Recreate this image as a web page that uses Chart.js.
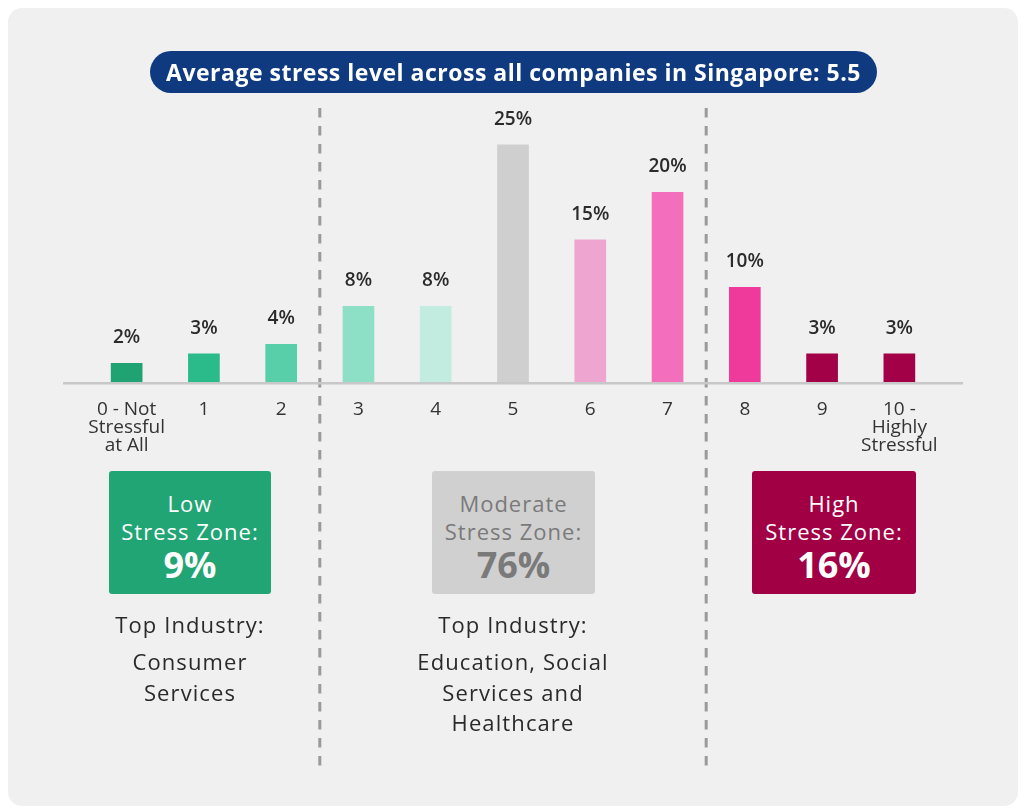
<!DOCTYPE html>
<html>
<head>
<meta charset="utf-8">
<script src="https://cdn.jsdelivr.net/npm/chart.js@4.4.0/dist/chart.umd.min.js"></script>
<style>
  body { margin: 0; background: #fff; width: 1024px; height: 812px; position: relative; overflow: hidden; font-family: "Open Sans", sans-serif; color: #2a2a2a; }
  #card { position: absolute; left: 8px; top: 8px; width: 1010px; height: 798px; background: #f0f0f0; border-radius: 14px; }
  #stress-chart { position: absolute; left: 0; top: 0; }
  .pill { position: absolute; left: 150px; top: 51px; width: 727px; height: 42px; border-radius: 21px; background: #103a80; color: #fff; font-weight: 700; font-size: 23px; letter-spacing: 0.5px; line-height: 42px; text-align: center; }
  .zone { position: absolute; top: 471px; height: 105px; padding-top: 18px; border-radius: 3px; text-align: center; font-size: 22px; letter-spacing: 1px; line-height: 28px; color: #fff; }
  .zone b { display: block; font-size: 36px; letter-spacing: 0; line-height: 40px; font-weight: 700; }
  .zone.low { left: 109px; width: 162px; background: #21a574; }
  .zone.mid { left: 432px; width: 163px; background: #d0d0d0; color: #7a7a7a; }
  .zone.high { left: 752px; width: 164px; background: #a10045; }
  .ind { position: absolute; text-align: center; font-size: 22px; letter-spacing: 1.1px; }
  .ind .head { line-height: 30px; }
  .ind .body { margin-top: 7px; line-height: 30.5px; }
</style>
</head>
<body>
<div id="card"></div>
<canvas id="stress-chart" width="1024" height="812"></canvas>

<div class="pill">Average stress level across all companies in Singapore: 5.5</div>

<div class="zone low">Low<br>Stress Zone:<b>9%</b></div>
<div class="zone mid">Moderate<br>Stress Zone:<b>76%</b></div>
<div class="zone high">High<br>Stress Zone:<b>16%</b></div>

<div class="ind" style="left:80px;width:220px;top:609px;">
  <div class="head">Top Industry:</div>
  <div class="body">Consumer<br>Services</div>
</div>
<div class="ind" style="left:393px;width:240px;top:609px;">
  <div class="head">Top Industry:</div>
  <div class="body">Education, Social<br>Services and<br>Healthcare</div>
</div>

<script>
const FONT = '"Open Sans", sans-serif';

const categories = [
  ["0 - Not", "Stressful", "at All"], "1", "2", "3", "4", "5", "6", "7", "8", "9",
  ["10 -", "Highly", "Stressful"],
];
const shares = [2, 3, 4, 8, 8, 25, 15, 20, 10, 3, 3];
const barColors = [
  "#1fa373", "#2bbb8a", "#58cfa8", "#8ddfc5", "#c2ece0",
  "#cfcfcf", "#eea6d0", "#f46fbb", "#ef3a9b", "#a20047", "#a20047",
];
// zone borders sit between these category indexes
const zoneBreaks = [[2, 3], [7, 8]];

const valueLabels = {
  id: "valueLabels",
  afterDatasetsDraw(chart) {
    const ctx = chart.ctx;
    const meta = chart.getDatasetMeta(0);
    ctx.save();
    ctx.fillStyle = "#2b2b2b";
    ctx.font = "600 19px " + FONT;
    ctx.textAlign = "center";
    ctx.textBaseline = "middle";
    meta.data.forEach((bar, i) => {
      ctx.fillText(shares[i] + "%", bar.x, bar.y - 25);
    });
    ctx.restore();
  },
};

const baseline = {
  id: "baseline",
  afterDatasetsDraw(chart) {
    const { ctx, chartArea } = chart;
    ctx.save();
    ctx.strokeStyle = "#c8c8c8";
    ctx.lineWidth = 2.5;
    ctx.beginPath();
    ctx.moveTo(chartArea.left - 25, chartArea.bottom + 1.25);
    ctx.lineTo(chartArea.right + 25, chartArea.bottom + 1.25);
    ctx.stroke();
    ctx.restore();
  },
};

const zoneLines = {
  id: "zoneLines",
  beforeDatasetsDraw(chart) {
    const ctx = chart.ctx;
    const x = chart.scales.x;
    ctx.save();
    ctx.strokeStyle = "#9a9a9a";
    ctx.lineWidth = 3;
    ctx.setLineDash([9.5, 8.5]);
    for (const [a, b] of zoneBreaks) {
      const px = (x.getPixelForValue(a) + x.getPixelForValue(b)) / 2;
      ctx.beginPath();
      ctx.moveTo(px, 108);
      ctx.lineTo(px, 771);
      ctx.stroke();
    }
    ctx.restore();
  },
};

new Chart(document.getElementById("stress-chart").getContext("2d"), {
  type: "bar",
  data: {
    labels: categories,
    datasets: [{
      data: shares,
      backgroundColor: barColors,
      borderWidth: 0,
      barPercentage: 0.41,
      categoryPercentage: 1,
    }],
  },
  options: {
    responsive: false,
    animation: false,
    layout: { padding: { left: 88, right: 86, top: 97, bottom: 350 } },
    plugins: { legend: { display: false }, tooltip: { enabled: false } },
    scales: {
      x: {
        offset: true,
        grid: { display: false, drawTicks: false },
        border: { display: false },
        ticks: {
          color: "#333",
          font: { family: FONT, size: 19, lineHeight: 0.97 },
          padding: 18,
          maxRotation: 0,
          autoSkip: false,
        },
        afterFit(scale) { scale.height = 80; },
      },
      y: { display: false, min: 0, max: 30 },
    },
  },
  plugins: [zoneLines, valueLabels, baseline],
});
</script>
</body>
</html>
